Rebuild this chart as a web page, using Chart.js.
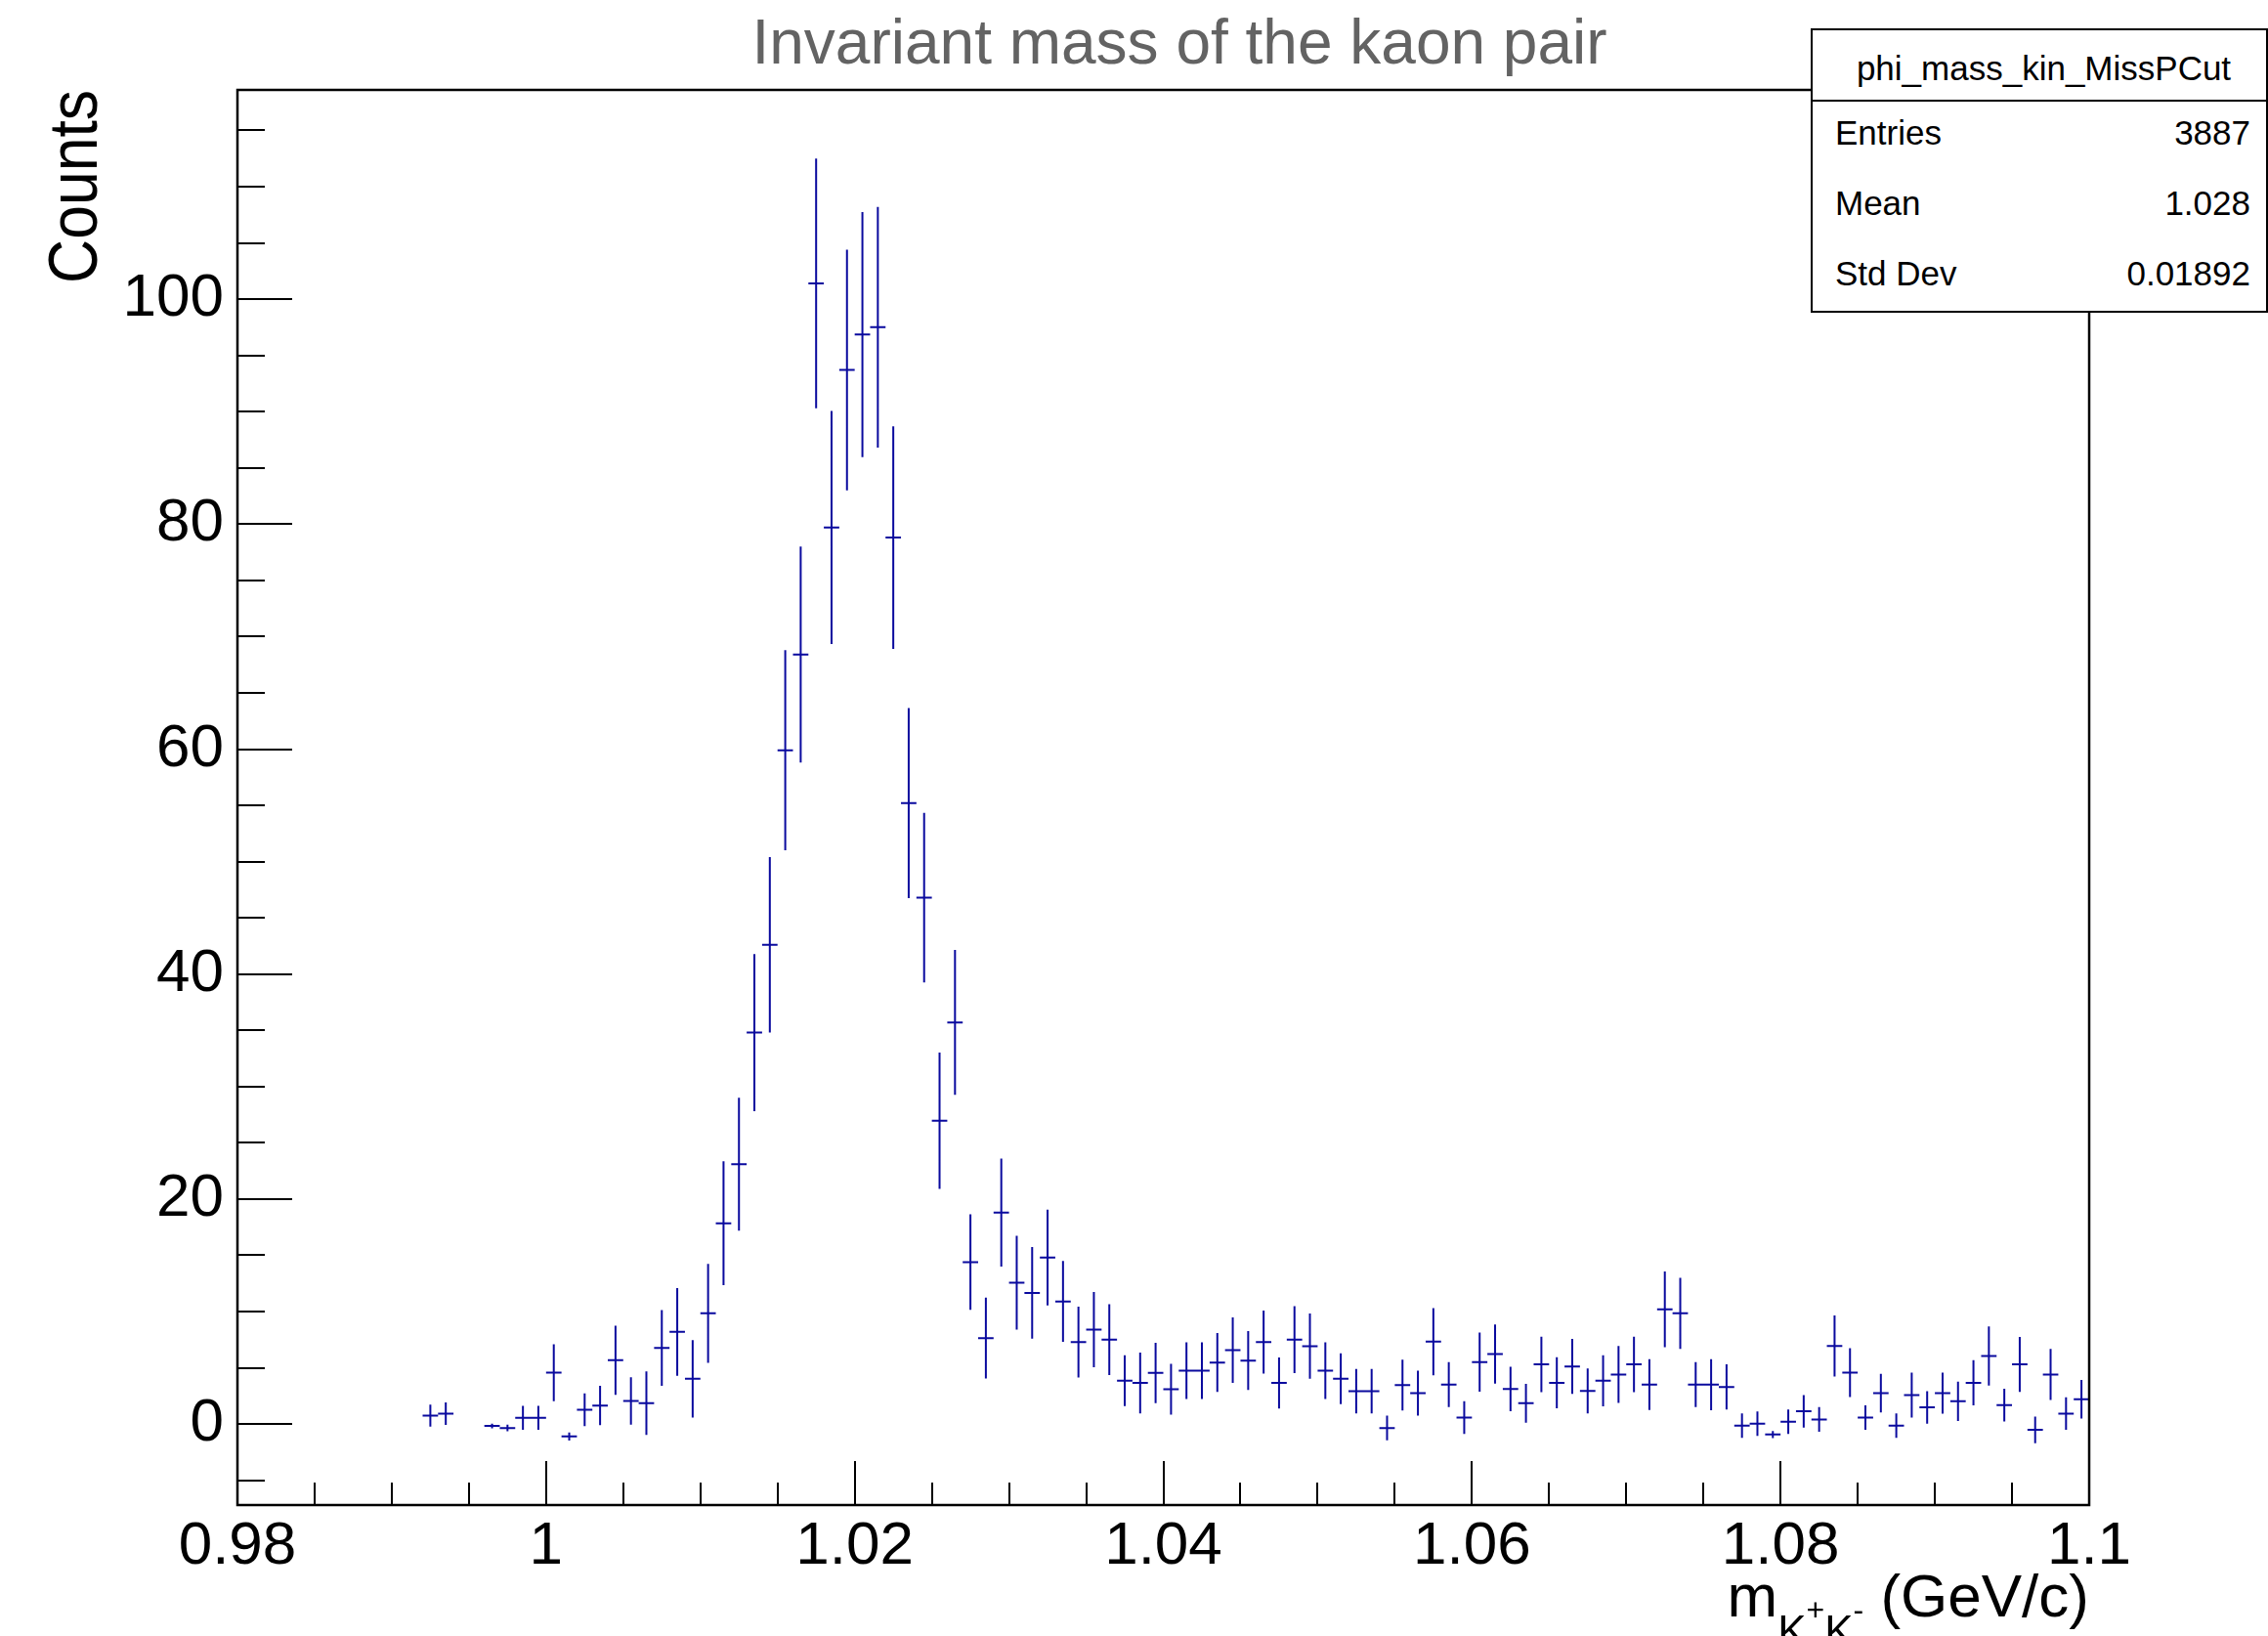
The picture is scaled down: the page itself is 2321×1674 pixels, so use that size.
<!DOCTYPE html>
<html>
<head>
<meta charset="utf-8">
<title>Invariant mass of the kaon pair</title>
<script src="https://cdn.jsdelivr.net/npm/chart.js@4.4.1/dist/chart.umd.min.js"></script>
<style>
  html, body { margin: 0; padding: 0; background: #fff; overflow: hidden; }
  #wrap { position: relative; width: 2321px; height: 1674px; font-family: 'Liberation Sans', Arial, Helvetica, sans-serif; color: #000; }
  #massChart { position: absolute; left: 0; top: 0; }
  .title { position: absolute; top: 3px; left: 1207px; transform: translateX(-50%); font-size: 64px; line-height: 80px; color: #636363; white-space: nowrap; }
  .ytitle { position: absolute; left: 0; top: 0; font-size: 70px; line-height: 70px; white-space: nowrap;
            transform-origin: 0 0; transform: translate(40px, 290px) rotate(-90deg) scaleX(0.893); }
  .xtitle { position: absolute; right: 183px; top: 1598px; font-size: 62px; line-height: 70px; white-space: nowrap; }
  .xtitle .sub { font-size: 44px; position: relative; top: 30px; }
  .xtitle .sup { font-size: 32px; position: relative; top: -26px; }
  .stats { position: absolute; left: 1853px; top: 29px; width: 468px; height: 291px; box-sizing: border-box; border: 2px solid #000; background: #fff; font-size: 35px; line-height: 40px; }
  .stats .sep { position: absolute; left: 0; right: 0; top: 71px; height: 2px; background: #000; }
  .stats .head { position: absolute; left: 9px; right: 0; top: 18.6px; text-align: center; white-space: nowrap; }
  .stats .lbl { position: absolute; left: 23px; white-space: nowrap; }
  .stats .val { position: absolute; right: 16px; white-space: nowrap; }
</style>
</head>
<body>
<div id="wrap">
  <canvas id="massChart" width="2321" height="1674"></canvas>
  <div class="title">Invariant mass of the kaon pair</div>
  <div class="ytitle">Counts</div>
  <div class="xtitle">m<span class="sub">K<span class="sup">+</span>K<span class="sup">-</span></span> (GeV/c)</div>
  <div class="stats">
    <div class="head">phi_mass_kin_MissPCut</div>
    <div class="sep"></div>
    <div class="lbl" style="top:85.2px">Entries</div><div class="val" style="top:85.2px">3887</div>
    <div class="lbl" style="top:156.9px">Mean</div><div class="val" style="top:156.9px">1.028</div>
    <div class="lbl" style="top:228.6px">Std Dev</div><div class="val" style="top:228.6px">0.01892</div>
  </div>
</div>

<script>
// ===== HISTOGRAM DATA (120 bins, 0.98 - 1.1 GeV/c) =====
const binLow   = 0.98;
const binWidth = 0.001;

// bin contents (null = empty bin, not drawn)
const counts = [
  null, null, null, null, null, null, null, null, null, null,
  null, null, 0.75, 0.93, null, null, -0.17, -0.35, 0.55, 0.55,
  4.57, -1.1, 1.27, 1.65, 5.67, 2.05, 1.85, 6.77, 8.19, 4.02,
  9.84, 17.85, 23.1, 34.8, 42.6, 59.9, 68.4, 101.4, 79.7, 93.7,
  96.85, 97.5, 78.8, 55.2, 46.8, 26.96, 35.7, 14.4, 7.64, 18.8,
  12.56, 11.66, 14.8, 10.9, 7.29, 8.39, 7.5, 3.85, 3.65, 4.54,
  3.1, 4.75, 4.75, 5.47, 6.57, 5.64, 7.29, 3.65, 7.5, 6.92,
  4.75, 4.02, 2.92, 2.92, -0.35, 3.47, 2.75, 7.32, 3.5, 0.58,
  5.5, 6.22, 3.12, 1.85, 5.3, 3.67, 5.12, 2.95, 3.85, 4.4,
  5.3, 3.5, 10.2, 9.84, 3.5, 3.5, 3.3, -0.14, 0.03, -0.93,
  0.2, 1.13, 0.41, 6.94, 4.57, 0.58, 2.75, -0.14, 2.58, 1.48,
  2.75, 2.02, 3.67, 6.05, 1.68, 5.3, -0.52, 4.4, 0.93, 2.2
];

// bin errors
const errors = [
  0, 0, 0, 0, 0, 0, 0, 0, 0, 0,
  0, 0, 0.97, 1.0, 0, 0, 0.2, 0.3, 1.07, 1.07,
  2.53, 0.36, 1.45, 1.74, 3.08, 2.1, 2.82, 3.37, 3.9, 3.44,
  4.4, 5.5, 5.9, 6.98, 7.8, 8.9, 9.6, 11.1, 10.35, 10.7,
  10.9, 10.7, 9.9, 8.45, 7.54, 6.06, 6.44, 4.25, 3.6, 4.8,
  4.17, 4.07, 4.25, 3.6, 3.15, 3.34, 3.15, 2.26, 2.7, 2.69,
  2.26, 2.52, 2.52, 2.62, 2.9, 2.62, 2.8, 2.26, 2.98, 2.9,
  2.52, 2.26, 1.98, 1.98, 1.09, 2.26, 2.0, 2.98, 2.0, 1.46,
  2.63, 2.62, 1.98, 1.72, 2.46, 2.27, 2.44, 2.0, 2.27, 2.53,
  2.46, 2.26, 3.36, 3.17, 2.0, 2.27, 2.0, 1.09, 1.09, 0.32,
  1.09, 1.45, 1.09, 2.72, 2.17, 1.09, 1.72, 1.09, 2.0, 1.45,
  1.82, 1.74, 2.0, 2.63, 1.45, 2.44, 1.19, 2.27, 1.45, 1.72
];

// axes
const xRange = [0.98, 1.1];
const yRange = [-7.2, 118.6];
const xTickLabels = ['0.98', '1', '1.02', '1.04', '1.06', '1.08', '1.1'];
const yTickLabels = ['0', '20', '40', '60', '80', '100'];
const xMinorStep = 0.005;
const yMinorStep = 5;

const MARKER = '#0a0a9e';
const FONT = "'Liberation Sans', Arial, Helvetica, sans-serif";

// ===== BUILD ERROR-BAR SEGMENTS =====
// each bin gives a horizontal bar across the bin and a vertical bar of +-error,
// separated by null points so the line breaks between them
const crossBars = [];
const errorBars = [];
counts.forEach((v, i) => {
  if (v === null) return;
  const lo = binLow + i * binWidth;
  const hi = lo + binWidth;
  const c  = lo + binWidth / 2;
  crossBars.push({ x: lo, y: v }, { x: hi, y: v }, { x: hi, y: null });
  errorBars.push({ x: c, y: v - errors[i] }, { x: c, y: v + errors[i] }, { x: c, y: null });
});

function tickList(min, max, step) {
  const out = [];
  const first = Math.ceil(min / step - 1e-9) * step;
  for (let v = first; v <= max + 1e-9; v += step) out.push(+v.toFixed(6));
  return out;
}

function findLabel(list, value) {
  const hit = list.find(l => Math.abs(parseFloat(l) - value) < 1e-6);
  return hit === undefined ? '' : hit;
}

// ===== INWARD TICKS + FRAME =====
const frameTicks = {
  id: 'frameTicks',
  afterDraw(chart) {
    const { ctx, chartArea: a, scales: { x, y } } = chart;
    ctx.save();
    ctx.strokeStyle = '#000';
    ctx.lineWidth = 2;
    ctx.beginPath();
    x.ticks.forEach(t => {
      const px = Math.round(x.getPixelForValue(t.value));
      const len = t.label ? 45 : 23;
      ctx.moveTo(px, a.bottom);
      ctx.lineTo(px, a.bottom - len);
    });
    y.ticks.forEach(t => {
      const py = Math.round(y.getPixelForValue(t.value));
      const len = t.label ? 56 : 28;
      ctx.moveTo(a.left, py);
      ctx.lineTo(a.left + len, py);
    });
    ctx.stroke();
    ctx.lineWidth = 2.5;
    ctx.strokeRect(a.left, a.top, a.right - a.left, a.bottom - a.top);
    ctx.restore();
  }
};

// ===== CHART =====
const ctx = document.getElementById('massChart').getContext('2d');
new Chart(ctx, {
  type: 'scatter',
  data: {
    datasets: [
      {
        label: 'bins',
        data: crossBars,
        showLine: true,
        spanGaps: false,
        borderColor: MARKER,
        borderWidth: 2,
        pointRadius: 0,
        pointHoverRadius: 0,
      },
      {
        label: 'errors',
        data: errorBars,
        showLine: true,
        spanGaps: false,
        borderColor: MARKER,
        borderWidth: 2,
        pointRadius: 0,
        pointHoverRadius: 0,
      }
    ]
  },
  options: {
    responsive: false,
    animation: false,
    events: [],
    layout: { padding: { top: 92, right: 183, bottom: 0, left: 0 } },
    plugins: {
      legend: { display: false },
      tooltip: { enabled: false },
      title: { display: false }
    },
    scales: {
      x: {
        type: 'linear',
        min: xRange[0],
        max: xRange[1],
        grid: { display: false, drawTicks: false },
        border: { display: false },
        afterBuildTicks: scale => {
          scale.ticks = tickList(xRange[0], xRange[1], xMinorStep).map(v => ({ value: v }));
        },
        afterFit: scale => { scale.height = 134; },
        ticks: {
          autoSkip: false,
          maxRotation: 0,
          padding: 6,
          color: '#000',
          font: { family: FONT, size: 62 },
          callback: v => findLabel(xTickLabels, v)
        }
      },
      y: {
        type: 'linear',
        min: yRange[0],
        max: yRange[1],
        grid: { display: false, drawTicks: false },
        border: { display: false },
        afterBuildTicks: scale => {
          scale.ticks = tickList(yRange[0], yRange[1], yMinorStep).map(v => ({ value: v }));
        },
        afterFit: scale => { scale.width = 243; },
        ticks: {
          autoSkip: false,
          padding: 14,
          color: '#000',
          font: { family: FONT, size: 62 },
          callback: v => findLabel(yTickLabels, v)
        }
      }
    }
  },
  plugins: [frameTicks]
});
</script>
</body>
</html>
